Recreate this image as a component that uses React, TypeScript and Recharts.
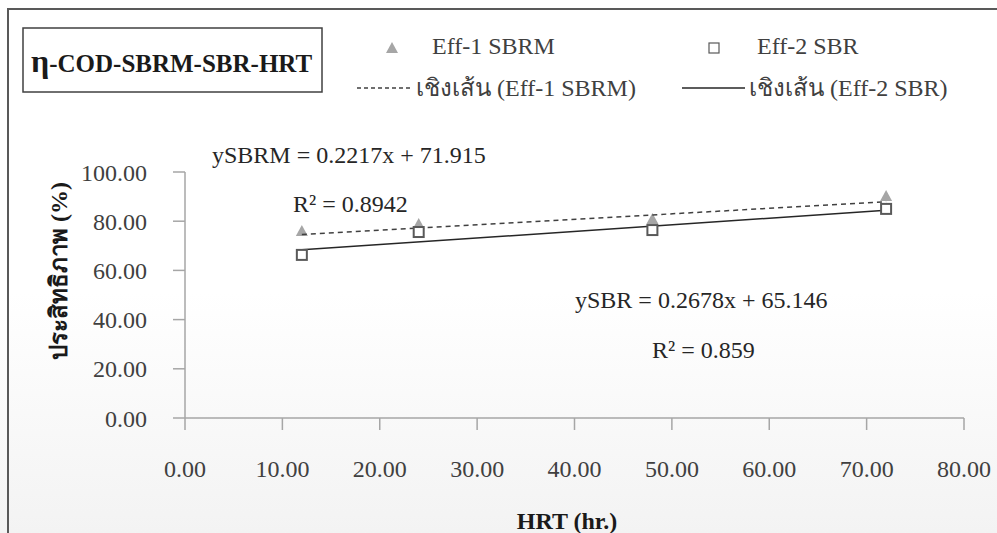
import React from 'react';
import { ScatterChart, Scatter, XAxis, YAxis } from 'recharts';

const hrtValues = [12, 24, 48, 72];
const effSBRM = [75.6, 78.5, 80.5, 89.8];
const effSBR = [66.3, 75.6, 76.4, 85.0];
const trendX = [12, 72];
const trendSBRM = [74.58, 87.88];
const trendSBR = [68.36, 84.43];
const xTicks = [0, 10, 20, 30, 40, 50, 60, 70, 80];
const yTicks = [0, 20, 40, 60, 80, 100];

const sbrmData = hrtValues.map((x, i) => ({ x, y: effSBRM[i] }));
const sbrData = hrtValues.map((x, i) => ({ x, y: effSBR[i] }));
const sbrmTrend = trendX.map((x, i) => ({ x, y: trendSBRM[i] }));
const sbrTrend = trendX.map((x, i) => ({ x, y: trendSBR[i] }));

const FONT = 'Liberation Serif, DejaVu Serif, serif';

const Triangle = (props: any) => {
  const { cx, cy } = props;
  return <polygon points={`${cx},${cy - 7} ${cx - 6},${cy + 4} ${cx + 6},${cy + 4}`} fill="#a6a6a6" />;
};
const Square = (props: any) => {
  const { cx, cy } = props;
  return <rect x={cx - 5} y={cy - 5} width={10} height={10} fill="#ffffff" stroke="#595959" strokeWidth={2} />;
};
const NoShape = () => <g />;

export default function App() {
  const tickStyle = { fill: '#404040', fontSize: 24, fontFamily: FONT };
  return (
    <div
      style={{
        position: 'fixed',
        left: 0,
        top: 0,
        width: 997,
        height: 533,
        overflow: 'hidden',
        fontFamily: FONT,
        background: 'linear-gradient(to bottom, #ffffff 0%, #ffffff 55%, #f3f3f3 100%)',
      }}
    >
      <div style={{ position: 'absolute', left: 0, top: 0 }}>
        <ScatterChart width={997} height={533} margin={{ top: 172, right: 33, bottom: 85, left: 125 }}>
          <XAxis
            type="number"
            dataKey="x"
            domain={[0, 80]}
            ticks={xTicks}
            interval={0}
            tickFormatter={(v: number) => v.toFixed(2)}
            stroke="#a6a6a6"
            strokeWidth={1.5}
            tickSize={12}
            tickMargin={30}
            height={30}
            tick={tickStyle}
          />
          <YAxis
            type="number"
            dataKey="y"
            domain={[0, 100]}
            ticks={yTicks}
            interval={0}
            tickFormatter={(v: number) => v.toFixed(2)}
            stroke="#a6a6a6"
            strokeWidth={1.5}
            tickSize={12}
            tickMargin={26}
            width={60}
            tick={tickStyle}
          />
          <Scatter data={sbrmData} shape={Triangle} isAnimationActive={false} />
          <Scatter
            data={sbrmTrend}
            shape={NoShape}
            line={{ stroke: '#404040', strokeWidth: 1.5, strokeDasharray: '5 4' }}
            isAnimationActive={false}
          />
          <Scatter
            data={sbrTrend}
            shape={NoShape}
            line={{ stroke: '#262626', strokeWidth: 1.5 }}
            isAnimationActive={false}
          />
          <Scatter data={sbrData} shape={Square} isAnimationActive={false} />
        </ScatterChart>
      </div>
      <svg
        width={997}
        height={533}
        style={{ position: 'absolute', left: 0, top: 0, pointerEvents: 'none', fontFamily: FONT }}
      >
        <polyline points="8,533 8,9 997,9" fill="none" stroke="#595959" strokeWidth={2} />
        <rect x={23} y={28} width={299} height={64} fill="#ffffff" stroke="#404040" strokeWidth={1.5} />
        <text x={31} y={72} fontWeight="bold" fill="#1a1a1a">
          <tspan fontSize={32}>η</tspan>
          <tspan fontSize={25}>-COD-SBRM-SBR-HRT</tspan>
        </text>

        <polygon points="392,42 386,53 398,53" fill="#a6a6a6" />
        <text x={432} y={54} fontSize={24} fill="#404040">Eff-1 SBRM</text>
        <rect x={709} y={43} width={10} height={10} fill="#ffffff" stroke="#595959" strokeWidth={1.2} />
        <text x={757} y={54} fontSize={24} fill="#404040">Eff-2 SBR</text>

        <line x1={357} y1={88} x2={412} y2={88} stroke="#404040" strokeWidth={1.5} strokeDasharray="4 3" />
        <text x={416} y={96} fontSize={24} fill="#404040">เชิงเส้น (Eff-1 SBRM)</text>
        <line x1={682} y1={88} x2={745} y2={88} stroke="#262626" strokeWidth={1.5} />
        <text x={749} y={96} fontSize={24} fill="#404040">เชิงเส้น (Eff-2 SBR)</text>

        <text x={212} y={163} fontSize={24} fill="#262626">ySBRM = 0.2217x + 71.915</text>
        <text x={293} y={212} fontSize={24} fill="#262626">R² = 0.8942</text>
        <text x={575} y={308} fontSize={24} fill="#262626">ySBR = 0.2678x + 65.146</text>
        <text x={652} y={358} fontSize={24} fill="#262626">R² = 0.859</text>

        <text
          x={67}
          y={271}
          transform="rotate(-90 67 271)"
          textAnchor="middle"
          fontSize={24}
          fontWeight="bold"
          fill="#1a1a1a"
        >
          ประสิทธิภาพ (%)
        </text>
        <text x={567} y={529} textAnchor="middle" fontSize={24} fontWeight="bold" fill="#1a1a1a">
          HRT (hr.)
        </text>
      </svg>
    </div>
  );
}
